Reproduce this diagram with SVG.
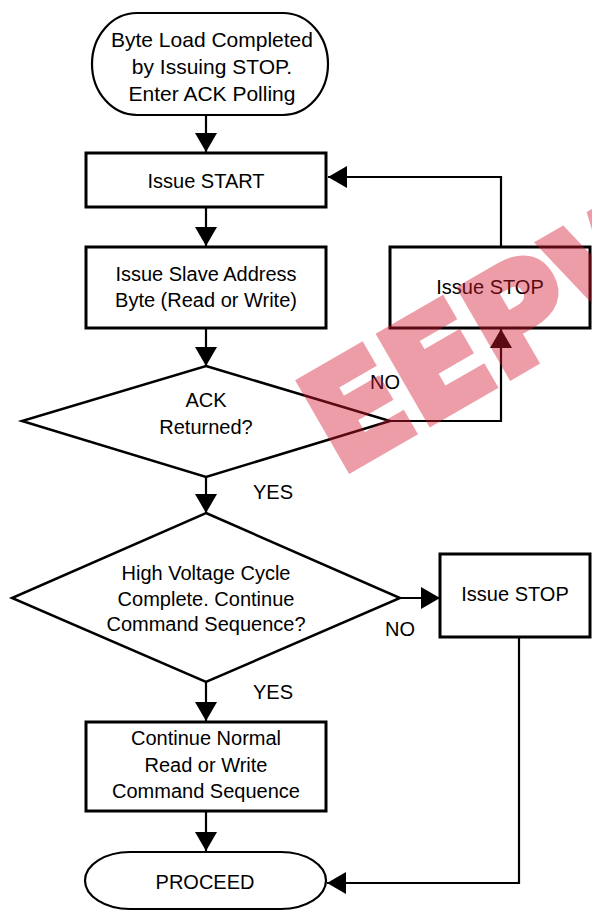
<svg xmlns="http://www.w3.org/2000/svg" width="592" height="912" viewBox="0 0 592 912">
<style>
.box{fill:#fff;stroke:#000;stroke-width:3}
.term{fill:#fff;stroke:#000;stroke-width:2.2}
.dia{fill:#fff;stroke:#000;stroke-width:2.5}
.t{font-family:"Liberation Sans",Arial,sans-serif;font-size:20px;fill:#000;text-anchor:middle}
.lbl{font-family:"Liberation Sans",Arial,sans-serif;font-size:20px;fill:#000}
.c{fill:none;stroke:#000;stroke-width:2.2;marker-end:url(#arr)}
.wm{font-family:"DejaVu Sans",sans-serif;font-weight:bold;font-size:136px;fill:rgb(214,24,47);stroke:rgb(214,24,47);stroke-width:9;stroke-linejoin:miter}
</style>
<defs>
<marker id="arr" viewBox="0 0 19 22" refX="19" refY="11" markerWidth="19" markerHeight="22" orient="auto" markerUnits="userSpaceOnUse">
<path d="M0,0 L19,11 L0,22 Z" fill="#000"/>
</marker>
</defs>
<rect width="592" height="912" fill="#fff"/>
<g id="n-start">
<rect class="term" x="92" y="13" width="236" height="102" rx="45" ry="51"/>
<text class="t" x="212" y="47" style="font-size:21px">Byte Load Completed</text>
<text class="t" x="212" y="74" style="font-size:21px">by Issuing STOP.</text>
<text class="t" x="212" y="101" style="font-size:21px">Enter ACK Polling</text>
</g>
<g id="n-issue-start">
<rect class="box" x="86" y="153" width="240" height="54"/>
<text class="t" x="206" y="188">Issue START</text>
</g>
<g id="n-slave">
<rect class="box" x="86" y="247" width="240" height="81"/>
<text class="t" x="206" y="281">Issue Slave Address</text>
<text class="t" x="206" y="307">Byte (Read or Write)</text>
</g>
<g id="n-ack">
<polygon class="dia" points="206,366 390,421 206,477 22,421"/>
<text class="t" x="206" y="407">ACK</text>
<text class="t" x="206" y="434">Returned?</text>
</g>
<g id="n-stop1">
<rect class="box" x="390" y="247" width="200" height="81"/>
<text class="t" x="490" y="294">Issue STOP</text>
</g>
<g id="n-hv">
<polygon class="dia" points="206,513 400,598 206,682 12,598"/>
<text class="t" x="206" y="580">High Voltage Cycle</text>
<text class="t" x="206" y="606">Complete. Continue</text>
<text class="t" x="206" y="631">Command Sequence?</text>
</g>
<g id="n-stop2">
<rect class="box" x="440" y="554" width="150" height="83"/>
<text class="t" x="515" y="601">Issue STOP</text>
</g>
<g id="n-continue">
<rect class="box" x="86" y="722" width="240" height="89"/>
<text class="t" x="206" y="745">Continue Normal</text>
<text class="t" x="206" y="772">Read or Write</text>
<text class="t" x="206" y="798">Command Sequence</text>
</g>
<g id="n-proceed">
<rect class="term" x="85" y="852" width="241" height="57" rx="45" ry="28.5"/>
<text class="t" x="205" y="889">PROCEED</text>
</g>
<g id="connectors">
<path class="c" d="M206,115 V152"/>
<path class="c" d="M206,207 V246"/>
<path class="c" d="M206,328 V366"/>
<path class="c" d="M206,477 V513"/>
<path class="c" d="M206,682 V721"/>
<path class="c" d="M206,811 V851"/>
<path class="c" d="M390,421 H501 V329"/>
<path class="c" d="M501,247 V177 H328"/>
<path class="c" d="M400,598 H440"/>
<path class="c" d="M519,637 V883 H327"/>
</g>
<g id="labels">
<text class="lbl" x="370" y="389">NO</text>
<text class="lbl" x="253" y="499">YES</text>
<text class="lbl" x="385" y="636">NO</text>
<text class="lbl" x="253" y="699">YES</text>
</g>
<g id="watermark" opacity="0.42">
<text class="wm" x="340" y="474" transform="rotate(-30 340 474)">EEPW</text>
</g>
</svg>
